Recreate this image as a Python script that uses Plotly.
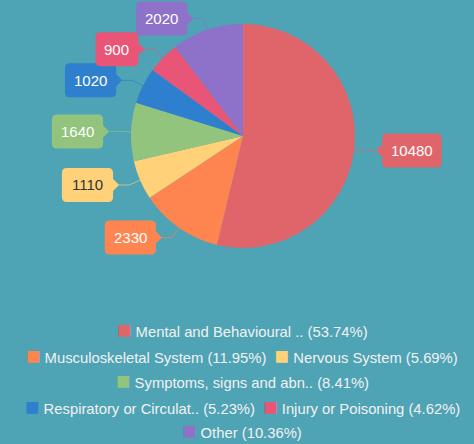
import math

import plotly.graph_objects as go

# data
labels = [
    "Mental and Behavioural ..",
    "Musculoskeletal System",
    "Nervous System",
    "Symptoms, signs and abn..",
    "Respiratory or Circulat..",
    "Injury or Poisoning",
    "Other",
]
values = [10480, 2330, 1110, 1640, 1020, 900, 2020]

# styling
colors = ["#e0656a", "#ff8550", "#ffd27a", "#93c47d", "#2f7fcf", "#e85577", "#8e72c9"]
label_font_colors = ["#ffffff", "#ffffff", "#333333", "#ffffff", "#ffffff", "#ffffff", "#ffffff"]
legend_rows = [[0], [1, 2], [3], [4, 5], [6]]

W, H = 474, 444
BG = "#4ea3b5"
FONT = "Liberation Sans, Arial, sans-serif"

# pie geometry (pixels, y down)
cx, cy, r = 243, 136, 112
len1, len2 = 12, 10       # label line segments
ptr_w, ptr_h = 6, 6       # box pointer
pad_x, box_h, rr = 9, 34, 5
digit_w = 8.3


def to_paper(px, py):
    return f"{px / W:.5f},{1 - py / H:.5f}"


def box_path(x0, x1, y0, y1, tip, side):
    """rounded box with a pointer on the side facing the pie"""
    yc = (y0 + y1) / 2
    p = [f"M{to_paper(x0 + rr, y0)}", f"L{to_paper(x1 - rr, y0)}",
         f"Q{to_paper(x1, y0)} {to_paper(x1, y0 + rr)}"]
    if side == "right":
        p += [f"L{to_paper(x1, yc - ptr_h)}", f"L{to_paper(*tip)}", f"L{to_paper(x1, yc + ptr_h)}"]
    p += [f"L{to_paper(x1, y1 - rr)}", f"Q{to_paper(x1, y1)} {to_paper(x1 - rr, y1)}",
          f"L{to_paper(x0 + rr, y1)}", f"Q{to_paper(x0, y1)} {to_paper(x0, y1 - rr)}"]
    if side == "left":
        p += [f"L{to_paper(x0, yc + ptr_h)}", f"L{to_paper(*tip)}", f"L{to_paper(x0, yc - ptr_h)}"]
    p += [f"L{to_paper(x0, y0 + rr)}", f"Q{to_paper(x0, y0)} {to_paper(x0 + rr, y0)}", "Z"]
    return " ".join(p)


total = sum(values)
fig = go.Figure(go.Pie(
    labels=labels,
    values=values,
    sort=False,
    direction="clockwise",
    marker=dict(colors=colors, line=dict(width=0)),
    textinfo="none",
    hoverinfo="label+value+percent",
    showlegend=False,
    domain=dict(x=[(cx - r) / W, (cx + r) / W], y=[1 - (cy + r) / H, 1 - (cy - r) / H]),
))

shapes, annotations = [], []
cum = 0
for val, col, fcol in zip(values, colors, label_font_colors):
    mid = (cum + val / 2) / total * 2 * math.pi
    cum += val
    dx, dy = math.sin(mid), -math.cos(mid)
    ex, ey = cx + r * dx, cy + r * dy
    p1x, p1y = cx + (r + len1) * dx, cy + (r + len1) * dy
    sign = 1 if dx >= 0 else -1
    p2x, p2y = p1x + sign * len2, p1y
    shapes.append(dict(
        type="path", xref="paper", yref="paper",
        path=f"M{to_paper(ex, ey)} L{to_paper(p1x, p1y)} L{to_paper(p2x, p2y)}",
        line=dict(color=col, width=1), opacity=0.65,
    ))
    txt = f"{val}"
    bw = len(txt) * digit_w + 2 * pad_x
    near = p2x + sign * ptr_w
    far = near + sign * bw
    x0, x1 = min(near, far), max(near, far)
    shapes.append(dict(
        type="path", xref="paper", yref="paper",
        path=box_path(x0, x1, p2y - box_h / 2, p2y + box_h / 2, (p2x, p2y),
                      "left" if sign > 0 else "right"),
        fillcolor=col, line=dict(width=0),
    ))
    annotations.append(dict(
        x=(x0 + x1) / 2 / W, y=1 - p2y / H, xref="paper", yref="paper",
        text=txt, showarrow=False, xanchor="center", yanchor="middle",
        font=dict(size=15, color=fcol, family=FONT),
    ))

# legend rows
row_y = [329, 355, 380, 406, 430]
for row, ry in zip(legend_rows, row_y):
    parts = []
    for i in row:
        pct = values[i] / total * 100
        parts.append(
            f"<span style='color:{colors[i]};font-size:24px;baseline-shift:-1px'>■</span>"
            f" {labels[i]} ({pct:.2f}%)"
        )
    annotations.append(dict(
        x=242 / W, y=1 - ry / H, xref="paper", yref="paper",
        text="&nbsp;&nbsp;".join(parts), showarrow=False,
        xanchor="center", yanchor="middle",
        font=dict(size=14.8, color="#f2f2f2", family=FONT),
    ))

fig.update_layout(
    width=W, height=H,
    margin=dict(l=0, r=0, t=0, b=0),
    paper_bgcolor=BG, plot_bgcolor=BG,
    shapes=shapes, annotations=annotations,
    font=dict(family=FONT),
)

fig.write_html(
    "out.html",
    config={"displayModeBar": False},
    post_script="document.body.style.margin='0';document.body.style.background='" + BG + "';",
)
